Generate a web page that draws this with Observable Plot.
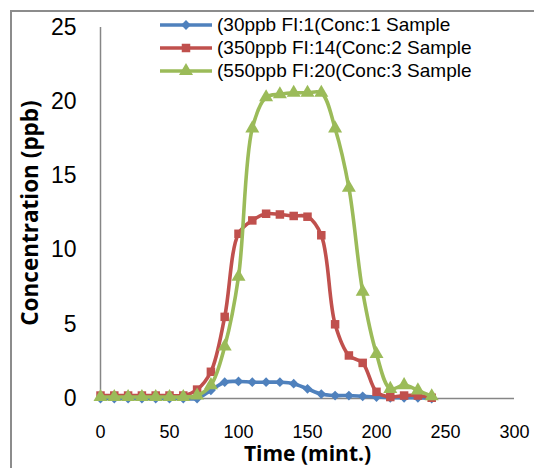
<!DOCTYPE html>
<html>
<head>
<meta charset="utf-8">
<script src="https://cdn.jsdelivr.net/npm/d3@7"></script>
<script src="https://cdn.jsdelivr.net/npm/@observablehq/plot@0.6"></script>
<style>
  html, body { margin: 0; padding: 0; background: #fff; }
  #wrap { position: relative; width: 534px; height: 468px; overflow: hidden; background: #fff; }
  #frame { position: absolute; left: 10px; top: 10px; width: 700px; height: 700px; border: 2px solid #8c8c8c; box-sizing: border-box; }
  #chart { position: absolute; left: 0; top: 0; }
  #legend { position: absolute; left: 158px; top: 13px; font-family: "Liberation Sans", Arial, sans-serif; font-size: 19px; color: #000; }
  #legend .row { display: flex; align-items: center; height: 23px; white-space: nowrap; }
  #legend svg { margin-right: 3px; }
  #chart g[aria-label="y-axis tick label"] text { font-size: 23px; font-family: "Liberation Sans", Arial, sans-serif; fill: #000; }
  #chart g[aria-label="x-axis tick label"] text { font-size: 18px; font-family: "Liberation Sans", Arial, sans-serif; fill: #000; }
  #chart g[aria-label="x-axis label"] text { font-size: 21px; font-weight: bold; font-family: "Open Sans", sans-serif; fill: #000; }
  #chart g[aria-label="y-axis label"] text { font-size: 22.5px; font-weight: bold; font-family: "Open Sans", sans-serif; fill: #000; }
</style>
</head>
<body>
<div id="wrap">
  <div id="frame"></div>
  <div id="chart"></div>
  <div id="legend"></div>
</div>
<script>
// ---- data ----
const time = [0, 10, 20, 30, 40, 50, 60, 70, 80, 90, 100, 110, 120, 130, 140, 150, 160, 170, 180, 190, 200, 210, 220, 230, 240];
const sample1 = [0, 0, 0, 0, 0, 0, 0, 0, 0.55, 1.1, 1.15, 1.1, 1.1, 1.1, 1.0, 0.65, 0.3, 0.2, 0.2, 0.15, 0.1, 0.05, 0.05, 0.05, 0];
const sample2 = [0.2, 0.2, 0.2, 0.2, 0.2, 0.2, 0.2, 0.6, 1.8, 5.5, 11.1, 12.0, 12.45, 12.4, 12.3, 12.25, 11.0, 5.0, 2.9, 2.4, 0.45, 0.1, 0.2, 0.2, 0.05];
const sample3 = [0.1, 0.1, 0.1, 0.1, 0.1, 0.1, 0.1, 0.2, 0.9, 3.5, 8.2, 18.2, 20.3, 20.5, 20.6, 20.6, 20.6, 18.2, 14.2, 7.2, 3.0, 0.65, 0.9, 0.55, 0.15];
const seriesNames = ["(30ppb FI:1(Conc:1 Sample", "(350ppb FI:14(Conc:2 Sample", "(550ppb FI:20(Conc:3 Sample"];
const seriesColors = ["#4F81BD", "#C0504D", "#9BBB59"];
const seriesSymbols = ["diamond2", "square", "triangle"];
const seriesR = [4.4, 4.8, 5.2];
const xTicks = [0, 50, 100, 150, 200, 250, 300];
const yTicks = [0, 5, 10, 15, 20, 25];
const xLabel = "Time (mint.)";
const yLabel = "Concentration (ppb)";

const allValues = [sample1, sample2, sample3];
const seriesData = allValues.map((vals, i) => time.map((t, j) => ({t, v: vals[j], s: seriesNames[i]})));

const marks = [
  Plot.axisX({ticks: xTicks, tickSize: 0, tickPadding: 27, label: xLabel, labelAnchor: "center", labelOffset: 62, labelArrow: false}),
  Plot.axisY({ticks: yTicks, tickSize: 0, tickPadding: 24, label: yLabel, labelAnchor: "center", labelOffset: 78, labelArrow: false}),
  Plot.ruleX([0], {stroke: "#868686", strokeWidth: 1.5}),
  Plot.ruleY([0], {stroke: "#868686", strokeWidth: 1.5})
];
seriesData.forEach((d, i) => {
  marks.push(Plot.line(d, {x: "t", y: "v", stroke: seriesColors[i], strokeWidth: 3.6, curve: "catmull-rom"}));
  marks.push(Plot.dot(d, {x: "t", y: "v", fill: seriesColors[i], stroke: "none", symbol: seriesSymbols[i], r: seriesR[i]}));
});

const chart = Plot.plot({
  width: 534,
  height: 468,
  marginLeft: 100,
  marginRight: 20,
  marginTop: 27,
  marginBottom: 70,
  x: {domain: [0, 300]},
  y: {domain: [0, 25]},
  style: {background: "transparent", fontFamily: "Liberation Sans, Arial, sans-serif"},
  marks
});
document.getElementById("chart").appendChild(chart);

// ---- legend ----
const legend = d3.select("#legend");
seriesNames.forEach((name, i) => {
  const row = legend.append("div").attr("class", "row");
  const svg = row.append("svg").attr("width", 56).attr("height", 20);
  svg.append("line").attr("x1", 2).attr("x2", 54).attr("y1", 10).attr("y2", 10)
    .attr("stroke", seriesColors[i]).attr("stroke-width", 3.6);
  const sym = {diamond2: d3.symbolDiamond2, square: d3.symbolSquare, triangle: d3.symbolTriangle}[seriesSymbols[i]];
  svg.append("path").attr("transform", "translate(28,10)")
    .attr("d", d3.symbol(sym, seriesR[i] * seriesR[i] * Math.PI)())
    .attr("fill", seriesColors[i]);
  row.append("span").text(name);
});
</script>
</body>
</html>
